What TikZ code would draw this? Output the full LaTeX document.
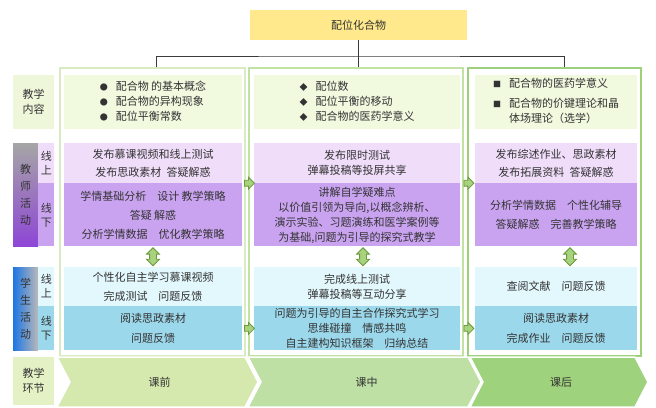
\documentclass[tikz,border=0pt]{standalone}
\usepackage{fontspec}
\setmainfont{Noto Sans CJK SC}
\usetikzlibrary{positioning,calc,shapes.arrows}

\definecolor{topyellow}{HTML}{FFE98C}
\definecolor{contentgreen}{HTML}{F1F9DF}
\definecolor{labelgreen}{HTML}{EEF7DA}
\definecolor{stagelabel}{HTML}{E3F1C4}
\definecolor{tonpurple}{HTML}{F0DDFA}
\definecolor{toffpurple}{HTML}{C9A3F0}
\definecolor{soncyan}{HTML}{E3F8FD}
\definecolor{soffblue}{HTML}{9CD8EB}
\definecolor{stageA}{HTML}{D5E8AE}
\definecolor{stageB}{HTML}{BFE0A5}
\definecolor{stageC}{HTML}{9FD27D}
\definecolor{panelA}{HTML}{D8ECC4}
\definecolor{panelB}{HTML}{C2E2A4}
\definecolor{panelC}{HTML}{9FD07C}
\definecolor{arrowgreen}{HTML}{A8D27E}
\definecolor{arrowdark}{HTML}{6A9A3A}
\definecolor{textgray}{HTML}{333333}
\definecolor{linegray}{HTML}{3A3A3A}
\definecolor{barpurple}{HTML}{8E46D6}
\definecolor{barblue}{HTML}{1C76E4}

\newcommand{\dotmark}[1]{{\fontsize{8}{8}\selectfont #1}}

\begin{document}
\begin{tikzpicture}[x=1pt,y=-1pt,font=\fontsize{11}{15}\selectfont,text=textgray,
  every node/.style={inner sep=0pt,align=center},
  panel/.style={draw,fill=white,line width=1.3pt,minimum height=288pt},
  label box/.style={fill=labelgreen,minimum width=41pt},
  side box/.style={minimum width=16pt,font=\fontsize{11}{14}\selectfont},
  bar box/.style={minimum width=25pt,font=\fontsize{11}{17}\selectfont},
  content box/.style={fill=contentgreen,minimum height=54pt},
  teacher on/.style={fill=tonpurple,minimum height=40pt},
  teacher off/.style={fill=toffpurple,minimum height=63pt},
  student on/.style={fill=soncyan,minimum height=39pt},
  student off/.style={fill=soffblue,minimum height=44pt},
  up down/.style={double arrow,draw=arrowdark,fill=arrowgreen,rotate=90,line width=0.8pt,
    inner sep=3pt,minimum height=18pt,double arrow head extend=3pt},
  go right/.style={single arrow,draw=arrowdark,fill=arrowgreen,line width=0.8pt,
    inner sep=2.5pt,minimum height=10pt,single arrow head extend=3pt}]

\useasboundingbox (0,0) rectangle (656,407);

% three columns
\node[panel,draw=panelA,minimum width=185pt] (p1) at (152.5,212) {};
\node[panel,draw=panelB,minimum width=214pt] (p2) at (356,212) {};
\node[panel,draw=panelC,minimum width=173pt,line width=1.8pt] (p3) at (554.5,212) {};

% title and its tree
\node[fill=topyellow,minimum width=217pt,minimum height=30pt] (top) at (358.5,25) {配位化合物};
\coordinate (hub) at (358,56);
\draw[linegray,line width=1pt] (top) -- (top |- p2.north);
\draw[linegray,line width=1pt] ([xshift=4pt]p1.north) |- (hub) -| ([xshift=10pt]p3.north);

% row labels
\node[label box,minimum height=54pt] (lContent) at (33.5,102) {教学\\内容};
\node[bar box,top color=gray!70,bottom color=barpurple,minimum height=103pt] (lTeacher) at (25.5,194.5) {教\\师\\活\\动};
\node[side box,fill=tonpurple,minimum height=40pt,anchor=north west] (lTon) at (lTeacher.north east) {线\\上};
\node[side box,fill=toffpurple,minimum height=63pt,below=0pt of lTon] (lToff) {线\\下};
\node[bar box,left color=barblue,right color=gray!55,minimum height=83pt] (lStudent) at (25.5,308.5) {学\\生\\活\\动};
\node[side box,fill=soncyan,minimum height=39pt,anchor=north west] (lSon) at (lStudent.north east) {线\\上};
\node[side box,fill=soffblue,minimum height=44pt,below=0pt of lSon] (lSoff) {线\\下};
\node[label box,fill=stagelabel,minimum height=48pt] (lStage) at (33.5,381) {教学\\环节};

% teaching content
\node[content box,minimum width=178pt] (c1) at (153,102) {\begin{tabular}{@{}l@{\hspace{8pt}}l@{}}
  \dotmark{●}&配合物 的基本概念\\ \dotmark{●}&配合物的异构现象\\ \dotmark{●}&配位平衡常数\end{tabular}};
\node[content box,minimum width=206pt] (c2) at (357,102) {\begin{tabular}{@{}l@{\hspace{8pt}}l@{}}
  \dotmark{◆}&配位数\\ \dotmark{◆}&配位平衡的移动\\ \dotmark{◆}&配合物的医药学意义\end{tabular}};
\node[content box,minimum width=162pt] (c3) at (556,102) {\begin{tabular}{@{}l@{\hspace{8pt}}l@{}}
  \dotmark{■}&配合物的医药学意义\\[5pt] \dotmark{■}&配合物的价键理论和晶\\ &体场理论（选学）\end{tabular}};

% teacher activities
\node[teacher on,minimum width=178pt] (t1on) at (153,163) {发布慕课视频和线上测试\\[3pt]发布思政素材\enspace 答疑解惑};
\node[teacher off,minimum width=178pt,below=0pt of t1on] (t1off) {学情基础分析\quad 设计 教学策略\\[4pt]答疑 解惑\\[4pt]分析学情数据\quad 优化教学策略};
\node[teacher on,minimum width=206pt] (t2on) at (357,163) {发布限时测试\\弹幕投稿等投屏共享};
\node[teacher off,minimum width=206pt,below=0pt of t2on] (t2off) {讲解自学疑难点\\以价值引领为导向,以概念辨析、\\演示实验、习题演练和医学案例等\\为基础,问题为引导的探究式教学};
\node[teacher on,minimum width=162pt] (t3on) at (556,163) {发布综述作业、思政素材\\[3pt]发布拓展资料\enspace 答疑解惑};
\node[teacher off,minimum width=162pt,below=0pt of t3on] (t3off) {分析学情数据\quad 个性化辅导\\[4pt]答疑解惑\quad 完善教学策略};

% student activities
\node[student on,minimum width=178pt] (s1on) at (153,286.5) {个性化自主学习慕课视频\\[4pt]完成测试\quad 问题反馈};
\node[student off,minimum width=178pt,below=0pt of s1on] (s1off) {阅读思政素材\\[5pt]问题反馈};
\node[student on,minimum width=206pt] (s2on) at (357,286.5) {完成线上测试\\弹幕投稿等互动分享};
\node[student off,minimum width=206pt,below=0pt of s2on] (s2off) {问题为引导的自主合作探究式学习\\思维碰撞\quad 情感共鸣\\自主建构知识框架\quad 归纳总结};
\node[student on,minimum width=162pt] (s3on) at (556,286.5) {查阅文献\quad 问题反馈};
\node[student off,minimum width=162pt,below=0pt of s3on] (s3off) {阅读思政素材\\[5pt]完成作业\quad 问题反馈};

% block arrows
\node[up down] (u1) at ($(t1off.south)!0.5!(s1on.north)$) {};
\node[xshift=6pt,up down] (u2) at ($(t2off.south)!0.5!(s2on.north)$) {};
\node[xshift=14pt,up down] (u3) at ($(t3off.south)!0.5!(s3on.north)$) {};
\node[go right] (r1) at ($(t1off.north east)!0.5!(t2off.north west)$) {};
\node[go right] (r2) at ($(t2off.north east)!0.5!(t3off.north west)$) {};
\node[go right] (r3) at ($(s1off.east)!0.5!(s2off.west)$) {};
\node[go right] (r4) at ($(s2off.east)!0.5!(s3off.west)$) {};

% stages
\foreach \a/\b/\c/\t/\n in {57/258/stageA/课前/k1,248/481/stageB/课中/k2,470/648/stageC/课后/k3}{
  \filldraw[fill=\c,draw=white,line width=1.5pt] (\a,357) -- (\b-13,357) -- (\b,382) -- (\b-13,407)
    -- (\a,407) -- (\a+13,382) -- cycle;
  \node (\n) at ({(\a+\b)/2+2},382) {\t};
}

\end{tikzpicture}
\end{document}
